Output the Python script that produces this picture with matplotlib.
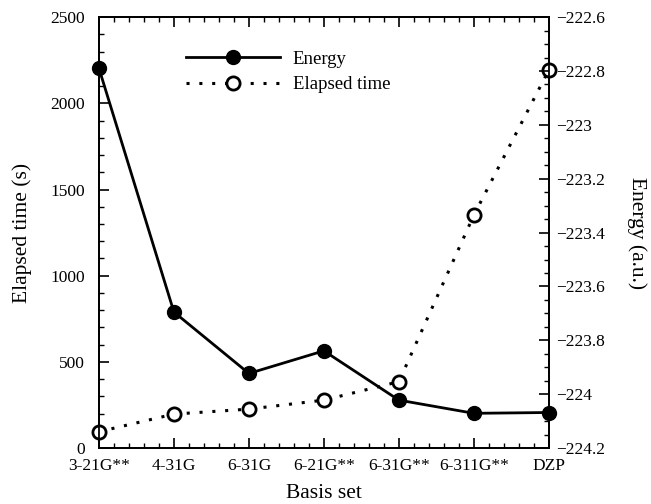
import matplotlib
matplotlib.use('Agg')
import matplotlib.pyplot as plt
from matplotlib.ticker import MultipleLocator, FixedLocator

# data
basis = ['3-21G**', '4-31G', '6-31G', '6-21G**', '6-31G**', '6-311G**', 'DZP']
energy = [-222.79, -223.695, -223.923, -223.839, -224.022, -224.071, -224.068]
elapsed = [95, 197, 226, 278, 385, 1351, 2193]

plt.rcParams['font.family'] = ['Liberation Serif', 'DejaVu Serif']
plt.rcParams['font.size'] = 12
plt.rcParams['axes.linewidth'] = 1.3

fig, ax = plt.subplots(figsize=(6.51, 5.04), dpi=100)
fig.subplots_adjust(left=0.152, right=0.843, top=0.966, bottom=0.111)
ax2 = ax.twinx()

x = list(range(len(basis)))

# elapsed time on left axis (dotted, open circles)
l2, = ax.plot(x, elapsed, linestyle=(0, (1, 3.2)), color='black', lw=2.2,
              marker='o', markersize=9.5, markerfacecolor='white',
              markeredgecolor='black', markeredgewidth=2.0, clip_on=False,
              label='Elapsed time', zorder=3)
# energy on right axis (solid, filled circles)
l1, = ax2.plot(x, energy, '-', color='black', lw=2.0,
               marker='o', markersize=10, clip_on=False, label='Energy', zorder=3)

ax.set_xlim(0, 6)
ax.set_ylim(0, 2500)
ax2.set_ylim(-224.2, -222.6)

ax.set_xticks(x)
ax.set_xticklabels(basis)
ax.xaxis.set_minor_locator(FixedLocator([i + j / 5 for i in range(6) for j in range(1, 5)]))
ax.yaxis.set_major_locator(MultipleLocator(500))
ax.yaxis.set_minor_locator(MultipleLocator(100))
ax2.yaxis.set_major_locator(MultipleLocator(0.2))
ax2.yaxis.set_minor_locator(MultipleLocator(0.05))
ax2.yaxis.set_major_formatter(lambda v, p: ('%g' % round(v, 1)).replace('-', '\u2212'))

ax.tick_params(axis='both', which='major', direction='in', length=7, width=1.2,
               top=True, labelsize=12.5)
ax.tick_params(axis='both', which='minor', direction='in', length=3.5, width=1.0, top=True)
ax.tick_params(axis='y', which='major', pad=10)
ax.tick_params(axis='x', which='major', pad=7)
ax2.tick_params(axis='y', which='major', direction='in', length=7, width=1.2,
                labelsize=12.5, pad=5)
ax2.tick_params(axis='y', which='minor', direction='in', length=3.5, width=1.0)

ax.set_xlabel('Basis set', fontsize=15.5, labelpad=7)
ax.set_ylabel('Elapsed time (s)', fontsize=15.5, labelpad=13)
ax2.set_ylabel('Energy (a.u.)', fontsize=15.5, rotation=270, labelpad=30)

ax2.legend(handles=[l1, l2], loc='upper left', bbox_to_anchor=(0.16, 0.957),
           frameon=False, fontsize=13.5, handlelength=5.0, handletextpad=0.7,
           labelspacing=0.45, numpoints=1, borderpad=0.3)

plt.savefig('out.png', dpi=100)
plt.close(fig)
